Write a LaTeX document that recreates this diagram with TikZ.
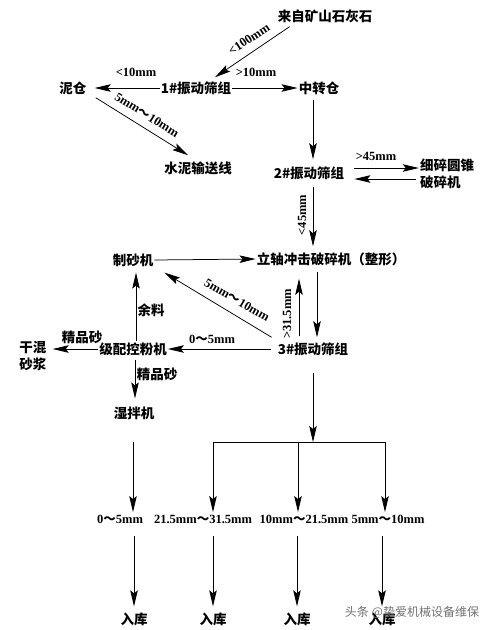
\documentclass[tikz,border=0pt]{standalone}
\usepackage{fontspec}
\setmainfont{Liberation Serif}
\newfontfamily\cjk{Noto Sans CJK SC}
\usetikzlibrary{arrows.meta,calc}
\newcommand{\wv}{{\cjk\bfseries ～}}
\tikzset{
 lbl/.style={font=\cjk\bfseries\fontsize{13.5}{17}\selectfont, inner sep=1pt, text=black},
 dim/.style={font=\bfseries\fontsize{12.5}{14}\selectfont, inner sep=0.5pt, text=black},
 arr/.style={draw=black, line width=0.75pt, -{Stealth[length=16pt,width=7.5pt,inset=3pt]}},
 ln/.style={draw=black, line width=0.75pt},
}
\begin{document}
\begin{tikzpicture}[x=1pt,y=-1pt]
\fill[white] (0,0) rectangle (492,630);
\useasboundingbox (0,0) rectangle (492,630);
% main nodes
\node[lbl] (src) at (325,16) {来自矿山石灰石};
\node[lbl] (s1) at (196,88) {1\#振动筛组};
\node[lbl] (ni) at (73,88) {泥仓};
\node[lbl] (zz) at (319,88) {中转仓};
\node[lbl] (sn) at (198,168) {水泥输送线};
\node[lbl] (s2) at (309,173) {2\#振动筛组};
\node[lbl,align=left] (cone) at (447,174) {细碎圆锥\\破碎机};
\node[lbl] (vsi) at (331,259) {立轴冲击破碎机（整形）};
\node[lbl] (zs) at (133,260) {制砂机};
\node[lbl] (s3) at (313,349) {3\#振动筛组};
\node[lbl] (jp) at (133,349) {级配控粉机};
\node[lbl,align=left] (gh) at (33,356) {干混\\砂浆};
\node[lbl] (sb) at (134,413) {湿拌机};
\node[dim] (p1) at (120,519) {0\wv5mm};
\node[dim] (p2) at (203,519) {21.5mm\wv31.5mm};
\node[dim] (p3) at (304,519) {10mm\wv21.5mm};
\node[dim] (p4) at (388,519) {5mm\wv10mm};
\node[lbl] (r1) at (134,619) {入库};
\node[lbl] (r2) at (213,619) {入库};
\node[lbl] (r3) at (297,619) {入库};
\node[lbl] (r4) at (382,619) {入库};
% labels
\node[dim, rotate=33.7] (l100) at (249,39) {<100mm};
\node[dim] (l10a) at (136,72) {<10mm};
\node[dim] (l10b) at (256,72) {>10mm};
\node[dim, rotate=-32] (l510a) at (147,115) {5mm\wv10mm};
\node[dim] (l45a) at (376,156) {>45mm};
\node[dim, rotate=90] (l45b) at (302,215) {<45mm};
\node[dim, rotate=90] (l315) at (287,314) {>31.5mm};
\node[dim, rotate=-30] (l510b) at (237,300) {5mm\wv10mm};
\node[dim] (l05) at (212,339) {0\wv5mm};
\node[lbl] (yl) at (151,310) {余料};
\node[lbl] (jpa) at (82,337) {精品砂};
\node[lbl] (jpb) at (157,374) {精品砂};
% connectors
\draw[arr] ($(src.south west)+(13,3)$) -- ($(s1.north)+(19,-3)$);
\draw[arr] (s1.west) -- ($(ni.east)+(7,0)$);
\draw[arr] (s1.east) -- (zz.west);
\draw[arr] ($(ni.south east)+(8,2)$) -- ($(sn.north west)+(25,-5)$);
\draw[arr] ($(zz.south)+(-6,4)$) -- ($(s2.north)+(4,-6)$);
\draw[arr] ($(s2.east)+(9,-5)$) -- ($(cone.west)+(0,-6)$);
\draw[arr] ($(cone.west)+(-3,5)$) -- ($(s2.east)+(9,6)$);
\draw[arr] ($(s2.south)+(4,6)$) -- ($(vsi.north)+(-18,-5)$);
\draw[arr] (zs.east) -- (vsi.west);
\draw[arr] ($(vsi.south)+(-14,5)$) -- ($(s3.north)+(4,-4)$);
\draw[arr] ($(s3.north)+(-14,-5)$) -- ($(vsi.south)+(-32,12)$);
\draw[arr] ($(s3.north west)+(-5,-4)$) -- ($(zs.south east)+(10,5)$);
\draw[arr] ($(s3.west)+(-6,0)$) -- (jp.east);
\draw[arr] ($(jp.north)+(3,0)$) -- ($(zs.south)+(3,5)$);
\draw[arr] (jp.west) -- ($(jp.west -| gh.east)+(5,0)$);
\draw[arr] ($(jp.south)+(2,3)$) -- ($(sb.north)+(1,-7)$);
\draw[arr] ($(sb.south)+(-1,21)$) -- ($(sb.south |- p1.north)+(-1,-2)$);
\coordinate (jn) at (313,442);
\coordinate (ja) at (213,442);
\coordinate (jb) at (298,442);
\coordinate (jc) at (385,442);
\draw[arr] ($(s3.south)+(0,16)$) -- (jn);
\draw[ln] (ja) -- (jc);
\draw[arr] (ja) -- ($(ja |- p2.north)+(0,-2)$);
\draw[arr] (jb) -- ($(jb |- p3.north)+(0,-2)$);
\draw[arr] (jc) -- ($(jc |- p4.north)+(0,-2)$);
\draw[arr] ($(r1.north |- p1.south)+(0,12)$) -- ($(r1.north)+(0,-5)$);
\draw[arr] ($(r2.north |- p2.south)+(0,12)$) -- ($(r2.north)+(0,-5)$);
\draw[arr] ($(r3.north |- p3.south)+(0,12)$) -- ($(r3.north)+(0,-5)$);
\draw[arr] ($(r4.north |- p4.south)+(0,12)$) -- ($(r4.north)+(0,-5)$);
% watermark
\node[font=\cjk\fontsize{12}{14}\selectfont, text=black!55, inner sep=0pt] (wm) at (412,612) {头条 @挚爱机械设备维保};
\end{tikzpicture}
\end{document}
